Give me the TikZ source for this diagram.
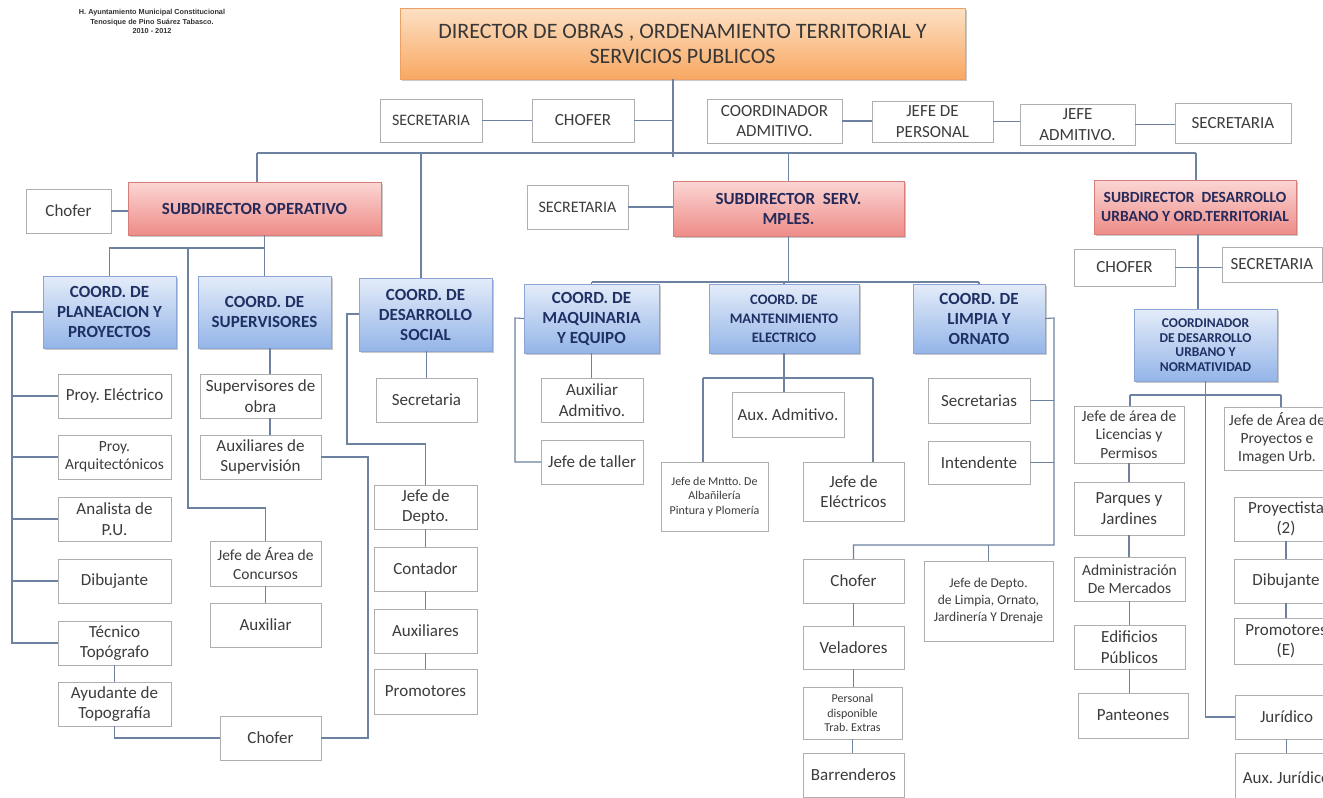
\documentclass[tikz,border=0pt]{standalone}
\usepackage{fontspec}
\setmainfont{Carlito}
\newfontfamily\hdrfont{Liberation Sans}
\usetikzlibrary{shadows}
\frenchspacing
\definecolor{lineC}{RGB}{108,130,160}
\definecolor{boxB}{RGB}{175,175,175}
\definecolor{txt}{RGB}{60,60,60}
\definecolor{navy}{RGB}{31,48,100}
\definecolor{subT}{RGB}{38,42,90}
\definecolor{dirT}{RGB}{55,55,55}
\definecolor{orTop}{RGB}{253,224,196}
\definecolor{orBot}{RGB}{248,168,98}
\definecolor{orDraw}{RGB}{238,160,100}
\definecolor{pkTop}{RGB}{251,214,212}
\definecolor{pkBot}{RGB}{238,140,136}
\definecolor{pkDraw}{RGB}{215,125,122}
\definecolor{blTop}{RGB}{228,236,249}
\definecolor{blBot}{RGB}{148,181,232}
\definecolor{blDraw}{RGB}{140,165,212}
\newcommand\obox[7]{%
  \pgfmathsetmacro\oboxw{#5-#3}%
  \pgfmathsetmacro\oboxh{#6-#4}%
  \node[#2, minimum width=\oboxw pt, minimum height=\oboxh pt] (#1) at ({(#3+#5)/2},{(#4+#6)/2}) {#7};}
\begin{document}
\begin{tikzpicture}[x=1pt,y=-1pt,
  base/.style={inner sep=0pt, outer sep=0pt, align=center},
  plain/.style={base, draw=boxB, line width=0.9pt, fill=white, text=txt, font=\fontsize{17}{20.5}\selectfont},
  fsA/.style={font=\fontsize{16}{19}\selectfont},
  fsS/.style={font=\fontsize{15.5}{18.2}\selectfont},
  fsM/.style={font=\fontsize{12}{14.4}\selectfont},
  fsJD/.style={font=\fontsize{13.5}{17}\selectfont},
  shad/.style={drop shadow={shadow xshift=1.5pt, shadow yshift=-2pt, opacity=0.35, fill=black!60}},
  dirbox/.style={base, shad, draw=orDraw, line width=0.8pt, top color=orTop, bottom color=orBot, text=dirT, font=\fontsize{22}{25}\selectfont},
  subbox/.style={base, shad, draw=pkDraw, line width=0.8pt, top color=pkTop, bottom color=pkBot, text=subT, font=\bfseries\fontsize{17}{20}\selectfont},
  fsDU/.style={font=\bfseries\fontsize{15.5}{19}\selectfont},
  coordbox/.style={base, shad, draw=blDraw, line width=0.8pt, top color=blTop, bottom color=blBot, text=navy, font=\bfseries\fontsize{17}{20}\selectfont},
  fsMant/.style={font=\bfseries\fontsize{14.5}{19}\selectfont},
  fsCDU/.style={font=\bfseries\fontsize{13.5}{14.6}\selectfont},
  link/.style={draw=lineC, line width=1.1pt}
]
\useasboundingbox (0,0) rectangle (1323,798);
\clip (0,0) rectangle (1323,798);
\fill[white] (0,0) rectangle (1323,798);

% header
\node[base, font=\hdrfont\bfseries\fontsize{7.3}{9.5}\selectfont, text=black!80] (hdr) at (152,21.5)
  {H. Ayuntamiento Municipal Constitucional\\Tenosique de Pino Suárez Tabasco.\\2010 - 2012};

% top level
\obox{dir}{dirbox}{400}{8}{965}{79}{DIRECTOR DE OBRAS , ORDENAMIENTO TERRITORIAL Y\\SERVICIOS PUBLICOS}
\obox{secTop}{plain,fsA}{380}{99}{482}{142}{SECRETARIA}
\obox{chofTop}{plain}{532}{99}{634}{142}{CHOFER}
\obox{coordAdm}{plain}{707}{99}{842}{143}{COORDINADOR\\ADMITIVO.}
\obox{jefePers}{plain}{872}{101}{993}{142}{JEFE DE\\PERSONAL}
\obox{jefeAdm}{plain}{1020}{104}{1135}{145}{JEFE\\ADMITIVO.}
\obox{secTopR}{plain}{1175}{103}{1291}{143}{SECRETARIA}

% subdirectors
\obox{subOp}{subbox}{128}{182}{381}{235}{SUBDIRECTOR OPERATIVO}
\obox{chofOp}{plain}{26}{189}{111}{233}{Chofer}
\obox{subServ}{subbox}{673}{181}{904}{236}{SUBDIRECTOR\ \ SERV.\\MPLES.}
\obox{secServ}{plain,fsA}{527}{185}{628}{229}{SECRETARIA}
\obox{subDU}{subbox,fsDU}{1094}{180}{1296}{234}{SUBDIRECTOR\ \ DESARROLLO\\URBANO Y ORD.TERRITORIAL}
\obox{chofDU}{plain}{1074}{249}{1175}{286}{CHOFER}
\obox{secDU}{plain}{1222}{247}{1322}{282}{SECRETARIA}

% coordinators
\obox{coordPP}{coordbox}{43}{276}{176}{348}{COORD. DE\\PLANEACION Y\\PROYECTOS}
\obox{coordSup}{coordbox}{198}{276}{331}{348}{COORD. DE\\SUPERVISORES}
\obox{coordDS}{coordbox}{359}{278}{492}{351}{COORD. DE\\DESARROLLO\\SOCIAL}
\obox{coordMaq}{coordbox}{524}{284}{659}{353}{COORD. DE\\MAQUINARIA\\Y EQUIPO}
\obox{coordMant}{coordbox,fsMant}{709}{284}{859}{353}{COORD. DE\\MANTENIMIENTO\\ELECTRICO}
\obox{coordLim}{coordbox}{913}{284}{1045}{353}{COORD. DE\\LIMPIA Y\\ORNATO}
\obox{coordDU}{coordbox,fsCDU}{1134}{309}{1277}{381}{COORDINADOR\\DE DESARROLLO\\URBANO Y\\NORMATIVIDAD}

% planeacion column
\obox{proyE}{plain}{58}{374}{171}{418}{Proy. Eléctrico}
\obox{proyA}{plain,fsS}{58}{435}{171}{479}{Proy.\\Arquitectónicos}
\obox{analista}{plain}{58}{497}{171}{541}{Analista de\\P.U.}
\obox{dibujL}{plain}{58}{559}{171}{603}{Dibujante}
\obox{tecnico}{plain}{58}{621}{171}{665}{Técnico\\Topógrafo}
\obox{ayudante}{plain}{58}{682}{171}{726}{Ayudante de\\Topografía}
\obox{chofB}{plain}{220}{716}{321}{760}{Chofer}

% supervisores column
\obox{supObra}{plain}{200}{374}{321}{418}{Supervisores de\\obra}
\obox{auxSup}{plain}{200}{435}{321}{479}{Auxiliares de\\Supervisión}
\obox{concursos}{plain,fsS}{210}{541}{321}{586}{Jefe de Área de\\Concursos}
\obox{auxiliar}{plain}{210}{603}{321}{647}{Auxiliar}

% desarrollo social column
\obox{secDS}{plain}{376}{378}{477}{422}{Secretaria}
\obox{jefeDepto}{plain}{374}{485}{477}{529}{Jefe de\\Depto.}
\obox{contador}{plain}{374}{547}{477}{591}{Contador}
\obox{auxiliares}{plain}{374}{609}{477}{653}{Auxiliares}
\obox{promotores}{plain}{374}{669}{477}{714}{Promotores}

% maquinaria column
\obox{auxAdmA}{plain}{541}{378}{643}{422}{Auxiliar\\Admitivo.}
\obox{jefeTaller}{plain}{541}{440}{643}{484}{Jefe de taller}

% mantenimiento column
\obox{auxAdmB}{plain}{732}{392}{844}{437}{Aux. Admitivo.}
\obox{jefeMtto}{plain,fsM}{661}{462}{768}{531}{Jefe de Mntto. De\\Albañilería\\Pintura y Plomería}
\obox{jefeElec}{plain}{803}{462}{904}{521}{Jefe de\\Eléctricos}

% limpia column
\obox{secretarias}{plain}{928}{378}{1030}{423}{Secretarias}
\obox{intendente}{plain}{928}{441}{1030}{484}{Intendente}
\obox{chofL}{plain}{803}{559}{904}{603}{Chofer}
\obox{veladores}{plain}{803}{626}{904}{669}{Veladores}
\obox{personal}{plain,fsM}{803}{687}{902}{739}{Personal\\disponible\\Trab. Extras}
\obox{barrenderos}{plain}{803}{753}{904}{797}{Barrenderos}
\obox{jefeDL}{plain,fsJD}{924}{561}{1053}{641}{Jefe de Depto.\\de Limpia, Ornato,\\Jardinería Y Drenaje}

% desarrollo urbano column
\obox{licencias}{plain,fsS}{1074}{406}{1184}{463}{Jefe de área de\\Licencias y\\Permisos}
\obox{parques}{plain}{1074}{482}{1184}{535}{Parques y\\Jardines}
\obox{mercados}{plain,fsS}{1074}{557}{1185}{601}{Administración\\De Mercados}
\obox{edificios}{plain}{1074}{625}{1185}{669}{Edificios\\Públicos}
\obox{panteones}{plain}{1078}{693}{1188}{738}{Panteones}
\obox{proyImg}{plain,fsS}{1224}{407}{1330}{470}{Jefe de Área de\\Proyectos e\\Imagen Urb.}
\obox{proyectista}{plain}{1234}{497}{1338}{541}{Proyectista\\(2)}
\obox{dibujR}{plain}{1234}{559}{1338}{603}{Dibujante}
\obox{promR}{plain}{1234}{618}{1338}{664}{Promotores\\(E)}
\obox{juridico}{plain}{1235}{695}{1338}{739}{Jurídico}
\obox{auxJur}{plain}{1235}{753}{1338}{802}{Aux. Jurídico}

% ---------- connectors ----------
\coordinate (trunk) at (673,157);
\coordinate (busL) at (257,153);
\coordinate (busR) at (1196,153);
\coordinate (dsTap) at (421,153);
\draw[link] (dir.south -| trunk) -- (trunk);
\draw[link] (secTop.east) -- (chofTop.west);
\draw[link] (chofTop.east) -- (chofTop.east -| trunk);
\draw[link] (coordAdm.east) -- (coordAdm.east -| jefePers.west);
\draw[link] (jefePers.east) -- (jefePers.east -| jefeAdm.west);
\draw[link] (jefeAdm.east) -- (jefeAdm.east -| secTopR.west);
\draw[link] (busL) -- (busR);
\draw[link] (busL) -- (busL |- subOp.north);
\draw[link] (subServ.north |- busL) -- (subServ.north);
\draw[link] (busR) -- (busR |- subDU.north);
\draw[link] (dsTap) -- (dsTap |- coordDS.north);

% subdirector operativo
\coordinate (opJ) at (264.5,248);
\coordinate (concTap) at (188,248);
\coordinate (concK) at (188,508);
\draw[link] (chofOp.east) -- (chofOp.east -| subOp.west);
\draw[link] (subOp.south -| opJ) -- (coordSup.north);
\draw[link] (coordPP.north) |- (opJ);
\draw[link] (concTap) -- (concK) -| (concursos.north);
\draw[link] (concursos.south) -- (concursos.south |- auxiliar.north);

% planeacion
\coordinate (ppL) at (12,312);
\draw[link] (coordPP.west |- ppL) -- (ppL) -- (ppL |- tecnico.west) -- (tecnico.west);
\draw[link] (ppL |- proyE.west) -- (proyE.west);
\draw[link] (ppL |- proyA.west) -- (proyA.west);
\draw[link] (ppL |- analista.west) -- (analista.west);
\draw[link] (ppL |- dibujL.west) -- (dibujL.west);
\draw[link] (tecnico.south) -- (tecnico.south |- ayudante.north);
\draw[link] (ayudante.south) |- (chofB.west);

% supervisores
\coordinate (supX) at (270,0);
\coordinate (supR) at (368,457);
\draw[link] (coordSup.south -| supX) -- (supObra.north -| supX);
\draw[link] (supObra.south -| supX) -- (auxSup.north -| supX);
\draw[link] (auxSup.east) -- (supR) |- (chofB.east);

% desarrollo social
\coordinate (dsL) at (347,314);
\coordinate (dsK) at (347,444);
\draw[link] (coordDS.south -| secDS.north) -- (secDS.north);
\draw[link] (coordDS.west |- dsL) -- (dsL) -- (dsK) -| (jefeDepto.north);
\draw[link] (jefeDepto.south) -- (jefeDepto.south |- contador.north);
\draw[link] (contador.south) -- (contador.south |- auxiliares.north);
\draw[link] (auxiliares.south) -- (auxiliares.south |- promotores.north);

% servicios municipales
\coordinate (servBus) at (788,282);
\draw[link] (secServ.east) -- (secServ.east -| subServ.west);
\draw[link] (subServ.south) -- (subServ.south |- servBus);
\draw[link] (coordMaq.north |- servBus) -- (coordLim.north |- servBus);
\draw[link] (coordMaq.north |- servBus) -- (coordMaq.north);
\draw[link] (coordMant.north |- servBus) -- (coordMant.north);
\draw[link] (coordLim.north |- servBus) -- (coordLim.north);

% maquinaria
\coordinate (maqL) at (515,318);
\draw[link] (coordMaq.south) -- (coordMaq.south |- auxAdmA.north);
\draw[link] (coordMaq.west) -- (maqL) |- (jefeTaller.west);

% mantenimiento
\coordinate (mL) at (703,378);
\coordinate (mR) at (873,378);
\draw[link] (coordMant.south) -- (coordMant.south |- auxAdmB.north);
\draw[link] (mL) -- (mR);
\draw[link] (mL) -- (mL |- jefeMtto.north);
\draw[link] (mR) -- (mR |- jefeElec.north);

% limpia
\coordinate (limR) at (1054,318);
\coordinate (limK) at (1054,545);
\draw[link] (coordLim.east) -- (limR) -- (limK) -| (chofL.north);
\draw[link] (secretarias.east) -- (secretarias.east -| limR);
\draw[link] (intendente.east) -- (intendente.east -| limR);
\draw[link] (jefeDL.north |- limK) -- (jefeDL.north);
\draw[link] (chofL.south) -- (chofL.south |- veladores.north);
\draw[link] (veladores.south) -- (veladores.south |- personal.north);
\draw[link] (personal.south) -- (personal.south |- barrenderos.north);

% desarrollo urbano
\coordinate (duX) at (1198,0);
\coordinate (duJ) at (1130,395);
\coordinate (duJR) at (1281,395);
\draw[link] (chofDU.east) -- (chofDU.east -| secDU.west);
\draw[link] (subDU.south -| duX) -- (coordDU.north -| duX);
\draw[link] (duJ) -- (duJR);
\draw[link] (duJ) -- (duJ |- licencias.north);
\draw[link] (duJR) -- (duJR |- proyImg.north);
\draw[link] (coordDU.south) -- (coordDU.south |- juridico.west) -- (juridico.west);
\draw[link] (licencias.south) -- (licencias.south |- parques.north);
\draw[link] (parques.south) -- (parques.south |- mercados.north);
\draw[link] (mercados.south) -- (mercados.south |- edificios.north);
\draw[link] (edificios.south) -- (edificios.south |- panteones.north);
\draw[link] (proyectista.south) -- (proyectista.south |- dibujR.north);
\draw[link] (dibujR.south) -- (dibujR.south |- promR.north);
\draw[link] (juridico.south) -- (juridico.south |- auxJur.north);
\end{tikzpicture}
\end{document}
